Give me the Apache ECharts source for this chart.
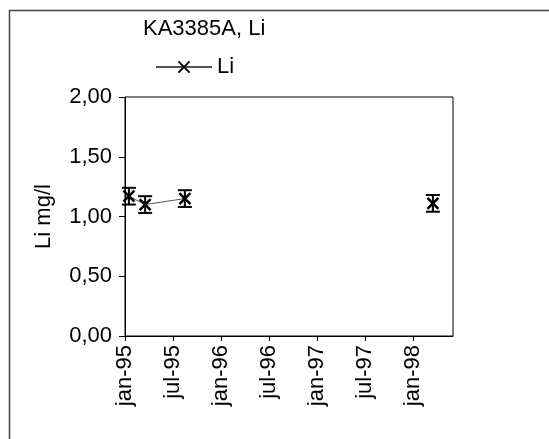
<!DOCTYPE html>
<html>
<head>
<meta charset="utf-8">
<script src="https://cdn.jsdelivr.net/npm/echarts@6/dist/echarts.min.js"></script>
<style>
html,body{margin:0;padding:0;background:#fff;}
#c{width:549px;height:439px;}
</style>
</head>
<body>
<div id="c"></div>
<script>
// ---- data ----
const titleText = 'KA3385A, Li';
const seriesName = 'Li';
const yAxisName = 'Li mg/l';
const sampleDates = ['1995-01-16', '1995-03-17', '1995-08-16', '1996-06-01', '1998-03-16'];
const liValues = [1.17, 1.10, 1.15, null, 1.11];
const liErrors = [0.07, 0.07, 0.07, null, 0.07];
const xTickLabels = ['jan-95', 'jul-95', 'jan-96', 'jul-96', 'jan-97', 'jul-97', 'jan-98'];
const yTickValues = [0, 0.5, 1, 1.5, 2];

// months since jan-95
const monthNames = ['jan','feb','mar','apr','maj','jun','jul','aug','sep','okt','nov','dec'];
function toMonths(s) {
  const p = s.split('-').map(Number);
  return (p[0] - 1995) * 12 + (p[1] - 1) + (p[2] - 1) / 31;
}
function labelToMonths(l) {
  const [m, y] = l.split('-');
  return (1900 + Number(y) - 1995) * 12 + monthNames.indexOf(m);
}
const xTickMonths = xTickLabels.map(labelToMonths);
const lineData = sampleDates.map((d, i) => [toMonths(d), liValues[i]]);
const errData = sampleDates.map((d, i) => liValues[i] == null ? null : [toMonths(d), liValues[i] - liErrors[i], liValues[i] + liErrors[i]]).filter(Boolean);

const FONT = 'Liberation Sans, Arial, sans-serif';
const FS = 22;

const chart = echarts.init(document.getElementById('c'), null, {renderer: 'canvas'});
const xMarker = 'path://M0,0L10,10M10,0L0,10';
chart.setOption({
  backgroundColor: '#ffffff',
  animation: false,
  title: {
    text: titleText,
    left: 138, top: 13,
    textStyle: {fontFamily: FONT, fontSize: FS, fontWeight: 'normal', color: '#000'}
  },
  legend: {
    left: 150, top: 51,
    itemWidth: 56, itemHeight: 14, itemGap: 6,
    textStyle: {fontFamily: FONT, fontSize: FS, color: '#000', padding: [0,0,0,0]},
    data: [seriesName]
  },
  grid: {left: 125, top: 97, right: 96, bottom: 103, show: true, borderColor: '#000', borderWidth: 1},
  xAxis: {
    type: 'value', min: 0, max: 41, interval: 6,
    splitLine: {show: false},
    axisLine: {lineStyle: {color: '#000', width: 1}},
    axisTick: {show: true, length: 5, lineStyle: {color: '#000'}, customValues: xTickMonths},
    axisLabel: {
      rotate: 90, margin: 9, fontFamily: FONT, fontSize: FS, color: '#000',
      customValues: xTickMonths,
      formatter: v => xTickLabels[xTickMonths.indexOf(Math.round(v))] || ''
    }
  },
  yAxis: {
    type: 'value', min: 0, max: 2, interval: 0.5,
    name: yAxisName, nameLocation: 'middle', nameGap: 70, nameRotate: 90,
    nameTextStyle: {fontFamily: FONT, fontSize: FS, color: '#000'},
    splitLine: {show: false},
    axisLine: {lineStyle: {color: '#000', width: 1}},
    axisTick: {show: true, length: 6, lineStyle: {color: '#000'}, customValues: yTickValues},
    axisLabel: {
      margin: 13, fontFamily: FONT, fontSize: FS, color: '#000',
      customValues: yTickValues,
      formatter: v => v.toFixed(2).replace('.', ',')
    }
  },
  series: [
    {
      name: seriesName,
      type: 'line',
      data: lineData,
      connectNulls: false,
      symbol: xMarker,
      symbolSize: 11,
      lineStyle: {color: '#555', width: 1},
      itemStyle: {color: '#000', borderColor: '#000', borderWidth: 2.5},
      z: 3
    },
    {
      name: 'err',
      type: 'custom',
      data: errData,
      silent: true,
      renderItem: function (params, api) {
        const x = api.value(0);
        const lo = api.coord([x, api.value(1)]);
        const hi = api.coord([x, api.value(2)]);
        const hw = 7;
        const st = {stroke: '#000', lineWidth: 2};
        return {
          type: 'group',
          children: [
            {type: 'line', shape: {x1: lo[0], y1: lo[1], x2: hi[0], y2: hi[1]}, style: st},
            {type: 'line', shape: {x1: lo[0]-hw, y1: lo[1], x2: lo[0]+hw, y2: lo[1]}, style: st},
            {type: 'line', shape: {x1: hi[0]-hw, y1: hi[1], x2: hi[0]+hw, y2: hi[1]}, style: st}
          ]
        };
      },
      z: 4
    }
  ],
  graphic: [
    {type: 'rect', shape: {x: 9.5, y: 10.5, width: 600, height: 500}, style: {fill: 'none', stroke: '#444', lineWidth: 1.5}, silent: true}
  ]
});
</script>
</body>
</html>
